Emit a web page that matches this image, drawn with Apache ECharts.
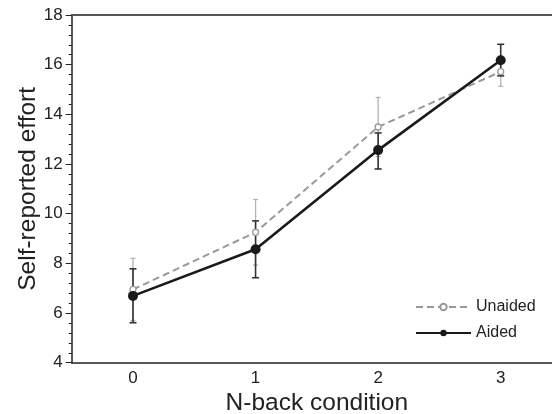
<!DOCTYPE html>
<html>
<head>
<meta charset="utf-8">
<script src="https://cdn.jsdelivr.net/npm/echarts@6/dist/echarts.min.js"></script>
<style>html,body{margin:0;padding:0;background:#fff}#c{width:552px;height:414px}</style>
</head>
<body>
<div id="c"></div>
<script>
const categories = ['0', '1', '2', '3'];
const unaidedMean = [6.95, 9.25, 13.49, 15.72];
const unaidedUpper = [8.2, 10.57, 14.68, 16.3];
const unaidedLower = [5.7, 7.93, 12.3, 15.13];
const aidedMean = [6.69, 8.57, 12.56, 16.18];
const aidedUpper = [7.78, 9.71, 13.25, 16.82];
const aidedLower = [5.61, 7.42, 11.8, 15.55];
const yTicks = [4, 6, 8, 10, 12, 14, 16, 18];

const FONT = 'Liberation Sans';
const chart = echarts.init(document.getElementById('c'), null, {renderer: 'canvas'});

function errSeries(name, lower, upper, color, width, cap) {
  return {
    type: 'custom',
    name: name + ' err',
    z: 1,
    silent: true,
    data: lower.map((l, i) => [i, l, upper[i]]),
    renderItem: function (params, api) {
      const lo = api.coord([api.value(0), api.value(1)]);
      const hi = api.coord([api.value(0), api.value(2)]);
      const st = {stroke: color, lineWidth: width};
      return {
        type: 'group',
        children: [
          {type: 'line', shape: {x1: lo[0], y1: lo[1], x2: hi[0], y2: hi[1]}, style: st},
          {type: 'line', shape: {x1: lo[0] - cap, y1: lo[1], x2: lo[0] + cap, y2: lo[1]}, style: st},
          {type: 'line', shape: {x1: hi[0] - cap, y1: hi[1], x2: hi[0] + cap, y2: hi[1]}, style: st}
        ]
      };
    }
  };
}

chart.setOption({
  animation: false,
  backgroundColor: '#ffffff',
  grid: {left: 71.7, width: 490.3, top: 15, bottom: 51.3, containLabel: false, outerBoundsMode: 'none'},
  legend: {
    orient: 'vertical',
    left: 410,
    top: 294,
    itemWidth: 55,
    itemHeight: 8,
    itemGap: 10,
    textStyle: {fontFamily: FONT, fontSize: 16, color: '#222'},
    data: ['Unaided', 'Aided']
  },
  xAxis: [{
    type: 'category',
    data: categories,
    boundaryGap: true,
    name: 'N-back condition',
    nameLocation: 'middle',
    nameGap: 28,
    nameMoveOverlap: false,
    nameTextStyle: {fontFamily: FONT, fontSize: 24.5, color: '#222'},
    axisLine: {lineStyle: {color: '#222', width: 1.5}},
    axisTick: {alignWithLabel: true, length: 3, lineStyle: {color: '#222', width: 1}},
    axisLabel: {fontFamily: FONT, fontSize: 17, color: '#222', margin: 7},
    splitLine: {show: false}
  }, {
    type: 'category',
    data: categories,
    position: 'top',
    axisLine: {lineStyle: {color: '#555', width: 2}},
    axisTick: {show: false},
    axisLabel: {show: false},
    splitLine: {show: false}
  }],
  yAxis: {
    type: 'value',
    min: yTicks[0],
    max: yTicks[yTicks.length - 1],
    interval: 2,
    name: 'Self-reported effort',
    nameLocation: 'middle',
    nameGap: 31,
    nameMoveOverlap: false,
    nameTextStyle: {fontFamily: FONT, fontSize: 24.5, color: '#222'},
    axisLine: {show: true, lineStyle: {color: '#222', width: 1.5}},
    axisTick: {show: true, length: 6, lineStyle: {color: '#222', width: 1}},
    minorTick: {show: true, splitNumber: 5, length: 3, lineStyle: {color: '#222', width: 1}},
    axisLabel: {fontFamily: FONT, fontSize: 17, color: '#222', margin: 9},
    splitLine: {show: false}
  },
  series: [
    errSeries('Unaided', unaidedLower, unaidedUpper, '#b3b3b3', 1.3, 2.5),
    {
      name: 'Unaided',
      type: 'line',
      z: 2,
      data: unaidedMean,
      symbol: 'circle',
      symbolSize: 6,
      showSymbol: true,
      lineStyle: {color: '#999', width: 2, type: [7, 4]},
      itemStyle: {color: '#fff', borderColor: '#999', borderWidth: 1.3}
    },
    errSeries('Aided', aidedLower, aidedUpper, '#333', 1.6, 3.5),
    {
      name: 'Aided',
      type: 'line',
      z: 4,
      data: aidedMean,
      symbol: 'circle',
      symbolSize: 10,
      lineStyle: {color: '#1a1a1a', width: 2.6},
      itemStyle: {color: '#1a1a1a', borderColor: '#1a1a1a', borderWidth: 0}
    }
  ]
});
</script>
</body>
</html>
